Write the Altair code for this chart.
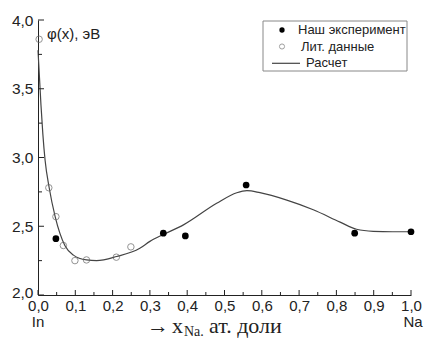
import altair as alt
import pandas as pd

# Measured work function of In–Na alloys
exp_x = [0.048, 0.336, 0.395, 0.558, 0.849, 1.0]
exp_y = [2.41, 2.45, 2.43, 2.80, 2.45, 2.46]

# Literature data
lit_x = [0.003, 0.029, 0.048, 0.068, 0.099, 0.130, 0.210, 0.249]
lit_y = [3.86, 2.78, 2.57, 2.36, 2.25, 2.255, 2.275, 2.35]

# Calculated curve
calc_x = [0.0, 0.004, 0.008, 0.013, 0.019, 0.030, 0.046, 0.072, 0.095, 0.13,
          0.157, 0.211, 0.273, 0.30, 0.336, 0.39, 0.479, 0.533, 0.56, 0.595,
          0.667, 0.738, 0.81, 0.854, 0.899, 0.95, 1.0]
calc_y = [3.78, 3.58, 3.38, 3.17, 2.98, 2.78, 2.57, 2.36, 2.29, 2.255,
          2.25, 2.28, 2.34, 2.39, 2.44, 2.51, 2.667, 2.744, 2.759, 2.744,
          2.69, 2.62, 2.53, 2.478, 2.463, 2.46, 2.46]

# Axis ticks
x_major = [0.0, 0.1, 0.2, 0.3, 0.4, 0.5, 0.6, 0.7, 0.8, 0.9, 1.0]
x_minor = [0.05, 0.15, 0.25, 0.35, 0.45, 0.55, 0.65, 0.75, 0.85, 0.95]
y_major = [2.0, 2.5, 3.0, 3.5, 4.0]
y_minor = [2.25, 2.75, 3.25, 3.75]

W, H = 373, 275
SANS = "Liberation Sans"
SERIF = "Liberation Serif"
AX = "#222222"

exp_df = pd.DataFrame({"x": exp_x, "y": exp_y})
lit_df = pd.DataFrame({"x": lit_x, "y": lit_y})
calc_df = pd.DataFrame({"x": calc_x, "y": calc_y})

comma = "replace(format(datum.value, '.1f'), '.', ',')"

xs = alt.Scale(domain=[0, 1], nice=False, zero=False)
ys = alt.Scale(domain=[2, 4], nice=False, zero=False)

x_axis = alt.Axis(
    values=x_major, labelExpr=comma, ticks=False, grid=False, domainColor=AX,
    labelFont=SANS, labelFontSize=15, labelColor=AX, labelPadding=3,
    labelFlush=False, labelOverlap=False, title=None)
y_axis = alt.Axis(
    values=y_major, labelExpr=comma, ticks=False, grid=False, domainColor=AX,
    labelFont=SANS, labelFontSize=15.5, labelColor=AX, labelPadding=5,
    labelOffset={"condition": {"test": "datum.value == 2", "value": -3}, "value": 0},
    labelFlush=False, labelOverlap=False, title=None)

X = alt.X("x:Q", scale=xs, axis=x_axis)
Y = alt.Y("y:Q", scale=ys, axis=y_axis)

curve = alt.Chart(calc_df).mark_line(
    color="#444444", strokeWidth=1.2, interpolate="monotone"
).encode(x=X, y=Y)

lit = alt.Chart(lit_df).mark_point(
    shape="circle", filled=False, color="#666666", size=42, strokeWidth=1
).encode(x=X, y=Y)

exp = alt.Chart(exp_df).mark_point(
    shape="circle", filled=True, color="#000000", size=45, opacity=1
).encode(x=X, y=Y)

# Inward tick marks
def xticks(vals, length):
    return alt.Chart(pd.DataFrame({"x": vals})).mark_rule(color=AX, strokeWidth=1).encode(
        x=X, y=alt.value(H), y2=alt.value(H - length))

def yticks(vals, length):
    return alt.Chart(pd.DataFrame({"y": vals})).mark_rule(color=AX, strokeWidth=1).encode(
        y=Y, x=alt.value(0), x2=alt.value(length))

ticks = xticks(x_major, 5) + xticks(x_minor, 3) + yticks(y_major, 6) + yticks(y_minor, 4)

def txt(s, x, y, size, font=SANS, align="left", baseline="alphabetic"):
    return alt.Chart(pd.DataFrame({"t": [s]})).mark_text(
        font=font, fontSize=size, color=AX, align=align, baseline=baseline
    ).encode(text="t:N", x=alt.value(x), y=alt.value(y))

labels = (
    txt("φ(x), эВ", 9, 19, 15)
    + txt("In", 0, 307, 15, align="center")
    + txt("Na", W + 2, 307, 15, align="center")
    + txt("→", 109, 313, 22, font=SERIF)
    + txt("x", 134, 313, 22, font=SERIF)
    + txt("Na.", 146, 315.5, 14, font=SERIF)
    + txt("ат. доли", 171, 313, 22, font=SERIF)
)

# Legend box
box = alt.Chart(pd.DataFrame({"a": [0]})).mark_rect(
    fill="white", stroke="#888888", strokeWidth=1
).encode(x=alt.value(225), x2=alt.value(369), y=alt.value(1), y2=alt.value(51))

leg_exp = alt.Chart(pd.DataFrame({"a": [0]})).mark_point(
    shape="circle", filled=True, color="#000000", size=28, opacity=1
).encode(x=alt.value(244), y=alt.value(10))
leg_lit = alt.Chart(pd.DataFrame({"a": [0]})).mark_point(
    shape="circle", filled=False, color="#777777", size=26, strokeWidth=1
).encode(x=alt.value(244), y=alt.value(26.5))
leg_line = alt.Chart(pd.DataFrame({"a": [0]})).mark_rule(
    color="#444444", strokeWidth=1.2
).encode(x=alt.value(234), x2=alt.value(262), y=alt.value(43.3))

legend = (
    box + leg_exp + leg_lit + leg_line
    + txt("Наш эксперимент", 260, 10, 13, baseline="middle")
    + txt("Лит. данные", 263, 26.5, 13, baseline="middle")
    + txt("Расчет", 268, 43, 13, baseline="middle")
)

chart = alt.layer(curve, ticks, lit, exp, labels, legend).properties(
    width=W, height=H,
    padding={"left": 38, "top": 20, "right": 13, "bottom": 44},
    autosize=alt.AutoSizeParams(type="none"),
    background="white",
).configure_view(stroke=None)

chart.save("out.html", embed_options={"renderer": "svg", "actions": False})
